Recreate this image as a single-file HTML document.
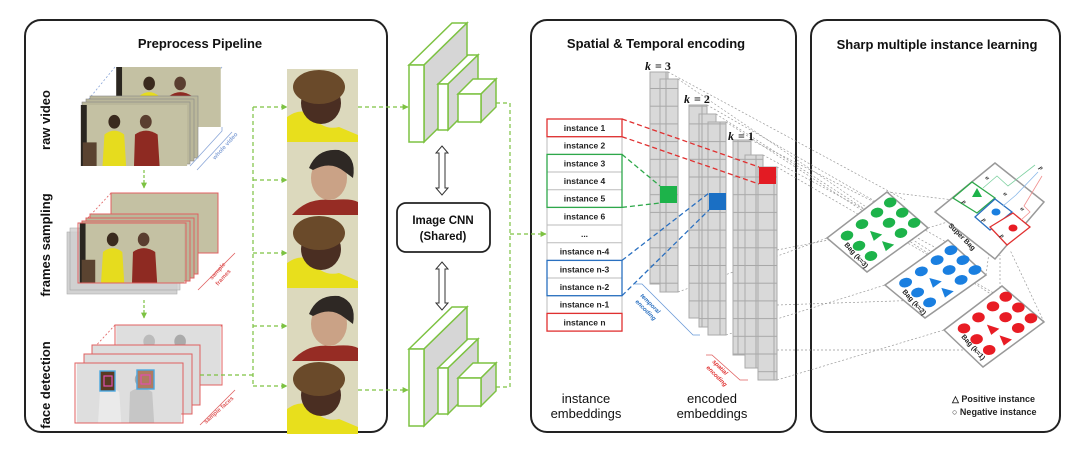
<!DOCTYPE html>
<html><head><meta charset="utf-8"><style>
html,body{margin:0;padding:0;background:#fff;}
svg{display:block;font-family:"Liberation Sans",sans-serif;}
.t{font-weight:bold;fill:#111;}
</style></head><body>
<svg width="1080" height="462" viewBox="0 0 1080 462" xmlns="http://www.w3.org/2000/svg">
<defs>
<marker id="ag" viewBox="0 0 10 10" refX="9" refY="5" markerWidth="5" markerHeight="5" orient="auto"><path d="M0,0L10,5L0,10z" fill="#7dc242"/></marker>
<symbol id="scene" viewBox="0 0 108 62">
<rect width="108" height="62" fill="#c4c1a3"/>
<rect x="0" y="0" width="6" height="62" fill="#2a2620"/>
<rect x="2" y="38" width="14" height="24" fill="#5a4330"/>
<ellipse cx="34" cy="17" rx="6" ry="7" fill="#3a2a1e"/>
<path d="M22,62 L24,30 Q34,22 44,30 L46,62z" fill="#e6dc1e"/>
<ellipse cx="66" cy="17" rx="6" ry="7" fill="#5a3e30"/>
<path d="M54,62 L55,30 Q66,22 78,30 L80,62z" fill="#8e2a22"/>
</symbol>
<symbol id="gscene" viewBox="0 0 108 62">
<rect width="108" height="62" fill="#dedede"/>
<ellipse cx="34" cy="17" rx="6" ry="7" fill="#bbb"/>
<path d="M22,62 L24,30 Q34,22 44,30 L46,62z" fill="#eaeaea"/>
<ellipse cx="66" cy="17" rx="6" ry="7" fill="#aaa"/>
<path d="M54,62 L55,30 Q66,22 78,30 L80,62z" fill="#c6c6c6"/>
</symbol>
<symbol id="woman" viewBox="0 0 71 73">
<rect width="71" height="73" fill="#dcd9bd"/>
<path d="M0,73 L0,48 Q14,38 24,46 Q36,62 52,58 L71,66 L71,73z" fill="#e8df1c"/>
<ellipse cx="34" cy="34" rx="20" ry="21" fill="#4a2e22"/>
<ellipse cx="32" cy="18" rx="26" ry="17" fill="#6a4a2a"/>
</symbol>
<symbol id="man" viewBox="0 0 71 73">
<rect width="71" height="73" fill="#dcd9bd"/>
<path d="M5,73 Q20,55 45,58 Q64,56 71,60 L71,73z" fill="#962c24"/>
<ellipse cx="42" cy="36" rx="18" ry="22" fill="#caa286"/>
<path d="M22,26 Q30,6 52,8 Q70,14 66,36 L58,30 Q44,18 26,28z" fill="#2e2824"/>
</symbol>
<g id="cnn">
<path d="M409,65 L452,23 L467,23 L424,65z" fill="#fff" stroke="#7dc242" stroke-width="1.5"/>
<path d="M424,65 L467,23 L467,100 L424,142z" fill="#d6d6d6" stroke="#7dc242" stroke-width="1.5"/>
<rect x="409" y="65" width="15" height="77" fill="#fff" stroke="#7dc242" stroke-width="1.5"/>
<path d="M438,84 L468,55 L478,55 L448,84z" fill="#fff" stroke="#7dc242" stroke-width="1.5"/>
<path d="M448,84 L478,55 L478,100 L448,130z" fill="#d6d6d6" stroke="#7dc242" stroke-width="1.5"/>
<rect x="438" y="84" width="10" height="46" fill="#fff" stroke="#7dc242" stroke-width="1.5"/>
<path d="M458,94 L473,79 L496,79 L481,94z" fill="#fff" stroke="#7dc242" stroke-width="1.5"/>
<path d="M481,94 L496,79 L496,107 L481,122z" fill="#d6d6d6" stroke="#7dc242" stroke-width="1.5"/>
<rect x="458" y="94" width="23" height="28" fill="#fff" stroke="#7dc242" stroke-width="1.5"/>
</g>
<pattern id="cells" width="18" height="17.7" patternUnits="userSpaceOnUse"><rect width="18" height="17.7" fill="#d9d9d9" stroke="#a8a8a8" stroke-width="1"/></pattern>
</defs>

<!-- panels -->
<rect x="25" y="20" width="362" height="412" rx="16" fill="none" stroke="#222" stroke-width="2"/>
<rect x="531" y="20" width="265" height="412" rx="16" fill="none" stroke="#222" stroke-width="2"/>
<rect x="811" y="20" width="249" height="412" rx="16" fill="none" stroke="#222" stroke-width="2"/>

<text x="200" y="48" class="t" font-size="13" text-anchor="middle">Preprocess Pipeline</text>
<text x="656" y="48" class="t" font-size="13" text-anchor="middle">Spatial &amp; Temporal encoding</text>
<text x="937" y="49" class="t" font-size="13" text-anchor="middle">Sharp multiple instance learning</text>

<text transform="translate(50,120) rotate(-90)" class="t" font-size="13" text-anchor="middle">raw video</text>
<text transform="translate(50,245) rotate(-90)" class="t" font-size="13" text-anchor="middle">frames sampling</text>
<text transform="translate(50,385) rotate(-90)" class="t" font-size="13" text-anchor="middle">face detection</text>

<!-- raw video -->
<line x1="115" y1="67" x2="88" y2="100" stroke="#8aa6d8" stroke-dasharray="2,2" stroke-width="0.8"/>
<line x1="222" y1="67" x2="195" y2="100" stroke="#8aa6d8" stroke-dasharray="2,2" stroke-width="0.8"/>
<use href="#scene" x="115" y="67" width="107" height="60"/>
<rect x="90" y="96" width="108" height="62" fill="#bab79a" stroke="#888" stroke-width="0.6"/>
<rect x="86" y="99" width="108" height="62" fill="#bab79a" stroke="#888" stroke-width="0.6"/>
<rect x="82" y="102" width="108" height="62" fill="#bab79a" stroke="#888" stroke-width="0.6"/>
<use href="#scene" x="78" y="105" width="112" height="61"/>
<path d="M190,166 L222,131 L222,127" fill="none" stroke="#8aa6d8" stroke-width="0.8"/>
<line x1="197" y1="170" x2="232" y2="132" stroke="#8aa6d8" stroke-width="0.8"/>
<text transform="translate(215,160) rotate(-48)" font-size="6" fill="#8aa6d8" font-weight="bold">whole video</text>
<line x1="144" y1="170" x2="144" y2="188" stroke="#7dc242" stroke-dasharray="3,2" stroke-width="1.2" marker-end="url(#ag)"/>

<!-- frames sampling -->
<line x1="111" y1="193" x2="86" y2="220" stroke="#e06060" stroke-dasharray="2,2" stroke-width="0.8"/>
<line x1="218" y1="193" x2="192" y2="220" stroke="#e06060" stroke-dasharray="2,2" stroke-width="0.8"/>
<rect x="111" y="193" width="107" height="60" fill="#c4c1a3" stroke="#e06060"/>
<rect x="67" y="232" width="110" height="62" fill="#c8c8c8" stroke="#999" stroke-width="0.6" opacity="0.8"/>
<rect x="70" y="228" width="110" height="62" fill="#d0d0d0" stroke="#999" stroke-width="0.6" opacity="0.8"/>
<rect x="90" y="214" width="108" height="60" fill="#bab79a" stroke="#e06060"/>
<rect x="86" y="218" width="108" height="60" fill="#bab79a" stroke="#e06060"/>
<rect x="82" y="221" width="108" height="60" fill="#bab79a" stroke="#e06060"/>
<use href="#scene" x="78" y="223" width="108" height="60"/>
<rect x="78" y="223" width="108" height="60" fill="none" stroke="#e06060"/>
<line x1="198" y1="290" x2="235" y2="253" stroke="#e06060" stroke-width="0.8"/>
<text transform="translate(212,280) rotate(-48)" font-size="6" fill="#e06060" font-weight="bold">sample</text>
<text transform="translate(218,286) rotate(-48)" font-size="6" fill="#e06060" font-weight="bold">frames</text>
<line x1="144" y1="300" x2="144" y2="318" stroke="#7dc242" stroke-dasharray="3,2" stroke-width="1.2" marker-end="url(#ag)"/>

<!-- face detection -->
<line x1="115" y1="325" x2="92" y2="350" stroke="#e06060" stroke-dasharray="2,2" stroke-width="0.8"/>
<line x1="222" y1="325" x2="200" y2="350" stroke="#e06060" stroke-dasharray="2,2" stroke-width="0.8"/>
<use href="#gscene" x="115" y="325" width="107" height="60"/>
<rect x="115" y="325" width="107" height="60" fill="none" stroke="#e06060"/>
<rect x="92" y="345" width="108" height="60" fill="#ddd" stroke="#e06060"/>
<rect x="84" y="354" width="108" height="60" fill="#ddd" stroke="#e06060"/>
<use href="#gscene" x="75" y="363" width="108" height="60"/>
<rect x="75" y="363" width="108" height="60" fill="none" stroke="#e06060"/>
<rect x="100" y="371" width="15" height="20" fill="#5a3a22" stroke="#4aa8e0" stroke-width="1.4"/>
<rect x="104" y="376" width="8" height="10" fill="none" stroke="#e050b0" stroke-width="1.2"/>
<rect x="137" y="370" width="17" height="19" fill="#b07a60" stroke="#4aa8e0" stroke-width="1.4"/>
<rect x="141" y="375" width="9" height="9" fill="none" stroke="#e050b0" stroke-width="1.2"/>
<line x1="200" y1="425" x2="235" y2="390" stroke="#e06060" stroke-width="0.8"/>
<text transform="translate(206,424) rotate(-42)" font-size="6" fill="#e06060" font-weight="bold">sample faces</text>

<!-- green connectors -->
<g stroke="#7dc242" stroke-width="1.2" stroke-dasharray="4,3" fill="none">
<line x1="200" y1="375" x2="253" y2="375"/>
<line x1="253" y1="107" x2="253" y2="386"/>
<line x1="253" y1="107" x2="287" y2="107" marker-end="url(#ag)"/>
<line x1="253" y1="180" x2="287" y2="180" marker-end="url(#ag)"/>
<line x1="253" y1="253" x2="287" y2="253" marker-end="url(#ag)"/>
<line x1="253" y1="326" x2="287" y2="326" marker-end="url(#ag)"/>
<line x1="253" y1="386" x2="287" y2="386" marker-end="url(#ag)"/>
<line x1="358" y1="107" x2="408" y2="107" marker-end="url(#ag)"/>
<line x1="358" y1="390" x2="408" y2="390" marker-end="url(#ag)"/>
<line x1="496" y1="103" x2="510" y2="103"/>
<line x1="496" y1="387" x2="510" y2="387"/>
<line x1="510" y1="103" x2="510" y2="387"/>
<line x1="510" y1="234" x2="546" y2="234" marker-end="url(#ag)"/>
</g>

<!-- faces -->
<use href="#woman" x="287" y="69" width="71" height="73"/>
<use href="#man" x="287" y="142" width="71" height="73"/>
<use href="#woman" x="287" y="215" width="71" height="73"/>
<use href="#man" x="287" y="288" width="71" height="73"/>
<use href="#woman" x="287" y="361" width="71" height="73"/>

<!-- CNNs -->
<use href="#cnn"/>
<use href="#cnn" y="284"/>
<rect x="397" y="203" width="93" height="49" rx="9" fill="#fff" stroke="#222" stroke-width="1.8"/>
<text x="443" y="224" class="t" font-size="11.5" text-anchor="middle">Image CNN</text>
<text x="443" y="240" class="t" font-size="11.5" text-anchor="middle">(Shared)</text>
<g fill="#fff" stroke="#333" stroke-width="1">
<path d="M442,146 L448,153 L445,153 L445,188 L448,188 L442,195 L436,188 L439,188 L439,153 L436,153z"/>
<path d="M442,262 L448,269 L445,269 L445,303 L448,303 L442,310 L436,303 L439,303 L439,269 L436,269z"/>
</g>

<!-- instance list -->
<g font-size="8.5" font-weight="bold" fill="#222" text-anchor="middle">
<rect x="547" y="119" width="75" height="212" fill="#fff" stroke="#bbb"/>
<g stroke="#bbb">
<line x1="547" y1="136.7" x2="622" y2="136.7"/><line x1="547" y1="154.4" x2="622" y2="154.4"/><line x1="547" y1="172" x2="622" y2="172"/>
<line x1="547" y1="189.7" x2="622" y2="189.7"/><line x1="547" y1="207.4" x2="622" y2="207.4"/><line x1="547" y1="225" x2="622" y2="225"/>
<line x1="547" y1="242.7" x2="622" y2="242.7"/><line x1="547" y1="260.4" x2="622" y2="260.4"/><line x1="547" y1="278" x2="622" y2="278"/>
<line x1="547" y1="295.7" x2="622" y2="295.7"/><line x1="547" y1="313.4" x2="622" y2="313.4"/>
</g>
<rect x="547" y="119" width="75" height="17.7" fill="none" stroke="#e03030" stroke-width="1.3"/>
<rect x="547" y="154.4" width="75" height="53" fill="none" stroke="#2ea84a" stroke-width="1.3"/>
<rect x="547" y="260.4" width="75" height="35.3" fill="none" stroke="#2a70c0" stroke-width="1.3"/>
<rect x="547" y="313.4" width="75" height="17.7" fill="none" stroke="#e03030" stroke-width="1.3"/>
<text x="584.5" y="131">instance 1</text><text x="584.5" y="148.7">instance 2</text><text x="584.5" y="166.4">instance 3</text>
<text x="584.5" y="184">instance 4</text><text x="584.5" y="201.7">instance 5</text><text x="584.5" y="219.4">instance 6</text>
<text x="584.5" y="237">...</text><text x="584.5" y="254.7">instance n-4</text><text x="584.5" y="272.4">instance n-3</text>
<text x="584.5" y="290">instance n-2</text><text x="584.5" y="307.7">instance n-1</text><text x="584.5" y="325.4">instance n</text>
</g>

<!-- gray dashed lines to bags -->
<g stroke="#999" stroke-width="0.7" stroke-dasharray="2,2" fill="none">
<line x1="668" y1="72" x2="905" y2="200"/><line x1="678" y1="79" x2="900" y2="230"/>
<line x1="707" y1="105" x2="960" y2="250"/><line x1="716" y1="114" x2="960" y2="270"/><line x1="726" y1="122" x2="1000" y2="300"/>
<line x1="751" y1="140" x2="900" y2="215"/><line x1="763" y1="155" x2="940" y2="250"/><line x1="777" y1="167" x2="1040" y2="320"/>
<line x1="678" y1="292" x2="827" y2="238"/><line x1="726" y1="335" x2="885" y2="285"/><line x1="777" y1="380" x2="944" y2="330"/>
<line x1="777" y1="250" x2="880" y2="230"/><line x1="777" y1="305" x2="925" y2="300"/><line x1="777" y1="350" x2="980" y2="350"/>
<line x1="887" y1="192" x2="995" y2="205"/><line x1="928" y1="228" x2="970" y2="215"/>
<line x1="986" y1="275" x2="990" y2="245"/><line x1="1044" y1="322" x2="1010" y2="250"/><line x1="1000" y1="300" x2="1000" y2="255"/>
</g>

<!-- encoded columns -->
<g stroke="#aaa" stroke-width="1">
<rect x="650" y="72" width="18" height="212" fill="url(#cells)"/>
<rect x="660" y="79" width="18" height="213" fill="url(#cells)"/>
<rect x="689" y="105" width="18" height="213" fill="url(#cells)"/>
<rect x="699" y="114" width="17" height="213" fill="url(#cells)"/>
<rect x="708" y="122" width="18" height="213" fill="url(#cells)"/>
<rect x="733" y="140" width="18" height="215" fill="url(#cells)"/>
<rect x="745" y="155" width="18" height="213" fill="url(#cells)"/>
<rect x="758" y="167" width="19" height="213" fill="url(#cells)"/>
</g>
<rect x="660" y="186" width="17" height="17" fill="#1db34a"/>
<rect x="709" y="193" width="17" height="17" fill="#1a6fc4"/>
<rect x="759" y="167" width="17" height="17" fill="#e31b23"/>
<g font-family="Liberation Serif,serif" font-style="italic" font-weight="bold" font-size="12" fill="#111">
<text x="645" y="70">k</text><text x="655" y="70" font-style="normal">= 3</text>
<text x="684" y="103">k</text><text x="694" y="103" font-style="normal">= 2</text>
<text x="728" y="140">k</text><text x="738" y="140" font-style="normal">= 1</text>
</g>
<g stroke-width="1.3" stroke-dasharray="5,3" fill="none">
<line x1="622" y1="119" x2="759" y2="167" stroke="#e03030"/>
<line x1="622" y1="136.7" x2="759" y2="184" stroke="#e03030"/>
<line x1="622" y1="154.4" x2="660" y2="186" stroke="#2ea84a"/>
<line x1="622" y1="207.4" x2="660" y2="203" stroke="#2ea84a"/>
<line x1="622" y1="260.4" x2="709" y2="193" stroke="#2a70c0"/>
<line x1="622" y1="295.7" x2="709" y2="210" stroke="#2a70c0"/>
</g>
<path d="M635,284 L642,284 L693,335 L700,335" fill="none" stroke="#6a9ad8" stroke-width="0.8"/>
<text transform="translate(640,296) rotate(45)" font-size="6" font-weight="bold" fill="#2a70c0" font-style="italic">temporal</text>
<text transform="translate(635,302) rotate(45)" font-size="6" font-weight="bold" fill="#2a70c0" font-style="italic">encoding</text>
<path d="M706,355 L712,355 L740,380 L748,380" fill="none" stroke="#e06060" stroke-width="0.8"/>
<text transform="translate(712,362) rotate(45)" font-size="6" font-weight="bold" fill="#e03030" font-style="italic">spatial</text>
<text transform="translate(706,368) rotate(45)" font-size="6" font-weight="bold" fill="#e03030" font-style="italic">encoding</text>

<text x="586" y="403" font-size="13" text-anchor="middle" fill="#111">instance</text>
<text x="586" y="418" font-size="13" text-anchor="middle" fill="#111">embeddings</text>
<text x="712" y="403" font-size="13" text-anchor="middle" fill="#111">encoded</text>
<text x="712" y="418" font-size="13" text-anchor="middle" fill="#111">embeddings</text>

<!-- bags -->
<g stroke="#999" stroke-width="1.5" fill="#fff">
<polygon points="887,192 928,228 867,272 827,238"/>
<polygon points="948,240 986,275 925,318 885,285"/>
<polygon points="1002,286 1044,322 983,367 944,330"/>
<polygon points="995,163 1044,202 995,259 935,212"/>
</g>
<g transform="matrix(0.6,-0.46,0.4,0.34,827,238)" fill="#1db34a">
<ellipse cx="20" cy="20" rx="8" ry="10"/><ellipse cx="45" cy="20" rx="8" ry="10"/><ellipse cx="70" cy="20" rx="8" ry="10"/><ellipse cx="92" cy="20" rx="8" ry="10"/>
<ellipse cx="20" cy="50" rx="8" ry="10"/><polygon points="45,40 52,60 38,60"/><ellipse cx="70" cy="50" rx="8" ry="10"/><ellipse cx="92" cy="50" rx="8" ry="10"/>
<ellipse cx="20" cy="80" rx="8" ry="10"/><polygon points="45,70 52,90 38,90"/><ellipse cx="70" cy="80" rx="8" ry="10"/><ellipse cx="92" cy="80" rx="8" ry="10"/>
</g>
<g transform="matrix(0.63,-0.45,0.4,0.33,885,285)" fill="#1a7fe0">
<ellipse cx="20" cy="20" rx="8" ry="10"/><ellipse cx="45" cy="20" rx="8" ry="10"/><ellipse cx="70" cy="20" rx="8" ry="10"/><ellipse cx="92" cy="20" rx="8" ry="10"/>
<ellipse cx="20" cy="50" rx="8" ry="10"/><polygon points="45,40 52,60 38,60"/><ellipse cx="70" cy="50" rx="8" ry="10"/><ellipse cx="92" cy="50" rx="8" ry="10"/>
<ellipse cx="20" cy="80" rx="8" ry="10"/><polygon points="45,70 52,90 38,90"/><ellipse cx="70" cy="80" rx="8" ry="10"/><ellipse cx="92" cy="80" rx="8" ry="10"/>
</g>
<g transform="matrix(0.58,-0.44,0.42,0.36,944,330)" fill="#e81c24">
<ellipse cx="20" cy="20" rx="8" ry="10"/><ellipse cx="45" cy="20" rx="8" ry="10"/><ellipse cx="70" cy="20" rx="8" ry="10"/><ellipse cx="92" cy="20" rx="8" ry="10"/>
<ellipse cx="20" cy="50" rx="8" ry="10"/><polygon points="45,40 52,60 38,60"/><ellipse cx="70" cy="50" rx="8" ry="10"/><ellipse cx="92" cy="50" rx="8" ry="10"/>
<ellipse cx="20" cy="80" rx="8" ry="10"/><polygon points="45,70 52,90 38,90"/><ellipse cx="70" cy="80" rx="8" ry="10"/><ellipse cx="92" cy="80" rx="8" ry="10"/>
</g>
<g font-size="7" font-weight="bold" fill="#222">
<text transform="translate(844,245) rotate(48)">Bag (k=3)</text>
<text transform="translate(902,292) rotate(48)">Bag (k=2)</text>
<text transform="translate(961,337) rotate(48)">Bag (k=1)</text>
<text transform="translate(948,226) rotate(45)">Super Bag</text>
</g>
<!-- super bag inner boxes -->
<g fill="#fff" stroke-width="1.3">
<polygon points="953,198 972,182 995,198 977,213" stroke="#2ea84a"/>
<polygon points="975,217 995,199 1012,212 990,230" stroke="#2a70c0"/>
<polygon points="990,227 1013,213 1030,227 1007,245" stroke="#e03030"/>
</g>
<polygon points="977,188 982,197 972,197" fill="#1db34a"/>
<ellipse cx="996" cy="212" rx="4.5" ry="3.5" fill="#1a7fe0"/>
<ellipse cx="1013" cy="228" rx="4.5" ry="3.5" fill="#e81c24"/>
<g fill="none" stroke-width="0.8">
<path d="M983,188 L997,176 L1008,186 L1035,165" stroke="#7dd0a0"/>
<path d="M1003,206 L1016,195 L1038,172" stroke="#8ab8e8"/>
<path d="M1021,220 L1030,212 L1024,206 L1042,176" stroke="#f09090"/>
</g>
<g font-size="6" font-weight="bold" font-style="italic" fill="#222" font-family="Liberation Serif,serif">
<text transform="translate(962,202) rotate(45)">p</text>
<text transform="translate(982,220) rotate(45)">p</text>
<text transform="translate(1000,236) rotate(45)">p</text>
<text transform="translate(985,178) rotate(45)">α</text>
<text transform="translate(1003,194) rotate(45)">α</text>
<text transform="translate(1020,209) rotate(45)">α</text>
<text transform="translate(1039,168) rotate(45)">p</text>
</g>

<text x="952" y="402" font-size="9" font-weight="bold" fill="#222">△  Positive instance</text>
<text x="952" y="415" font-size="9" font-weight="bold" fill="#222">○  Negative instance</text>
</svg>
</body></html>
